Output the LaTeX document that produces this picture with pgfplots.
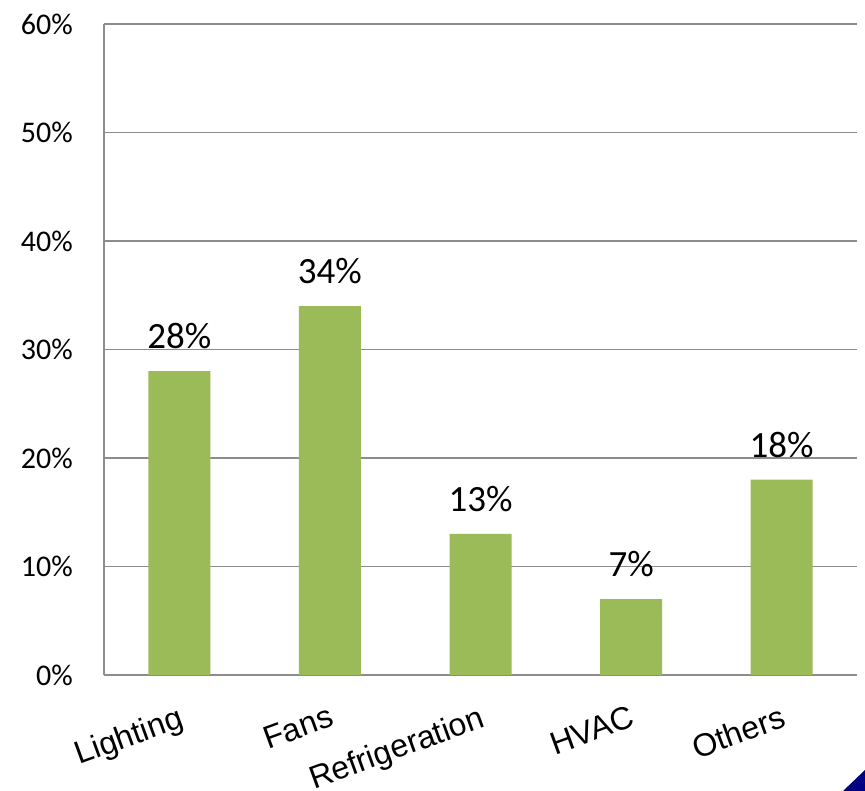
\documentclass[border=0pt]{standalone}
\usepackage{fontspec}
\setmainfont{Carlito}
\newfontfamily\arialfont{Liberation Sans}
\usepackage{pgfplots}
\pgfplotsset{compat=1.18}

\definecolor{bargreen}{HTML}{9BBB59}
\definecolor{gridgray}{HTML}{8C8C8C}
\definecolor{cornerblue}{HTML}{000080}

\begin{document}
\begin{tikzpicture}
\useasboundingbox (-104pt,-116pt) rectangle (761pt,675pt);
\begin{axis}[
    at={(0,0)}, anchor=south west,
    scale only axis,
    width=753pt, height=651pt,
    ybar,
    bar width=62pt,
    xmin=-0.5, xmax=4.5,
    ymin=0, ymax=60,
    xtick={0,1,2,3,4},
    xticklabels={Lighting, Fans, Refrigeration, HVAC, Others},
    ytick={0,10,20,30,40,50,60},
    yticklabels={0\%,10\%,20\%,30\%,40\%,50\%,60\%},
    axis lines*=left,
    axis line style={gridgray, line width=1.4pt},
    ymajorgrids,
    grid style={gridgray, line width=1.4pt},
    major tick length=0pt,
    /pgf/number format/assume math mode=true,
    yticklabel style={font=\fontsize{30}{32}\selectfont, inner sep=0pt, xshift=-31pt},
    xticklabel style={font=\arialfont\fontsize{32}{34}\selectfont, rotate=20, anchor=north east, inner sep=0pt, xshift=-12pt, yshift=-27pt},
    nodes near coords={\pgfmathprintnumber{\pgfplotspointmeta}\%},
    nodes near coords style={font=\fontsize{37}{40}\selectfont, black, inner sep=0pt, yshift=22pt, anchor=south},
]
\addplot[fill=bargreen, draw=none] coordinates {
    (0,28) (1,34) (2,13) (3,7) (4,18)
};
\end{axis}
\fill[cornerblue] (739pt,-116pt) -- (761pt,-116pt) -- (761pt,-95pt) -- cycle;
\end{tikzpicture}
\end{document}
